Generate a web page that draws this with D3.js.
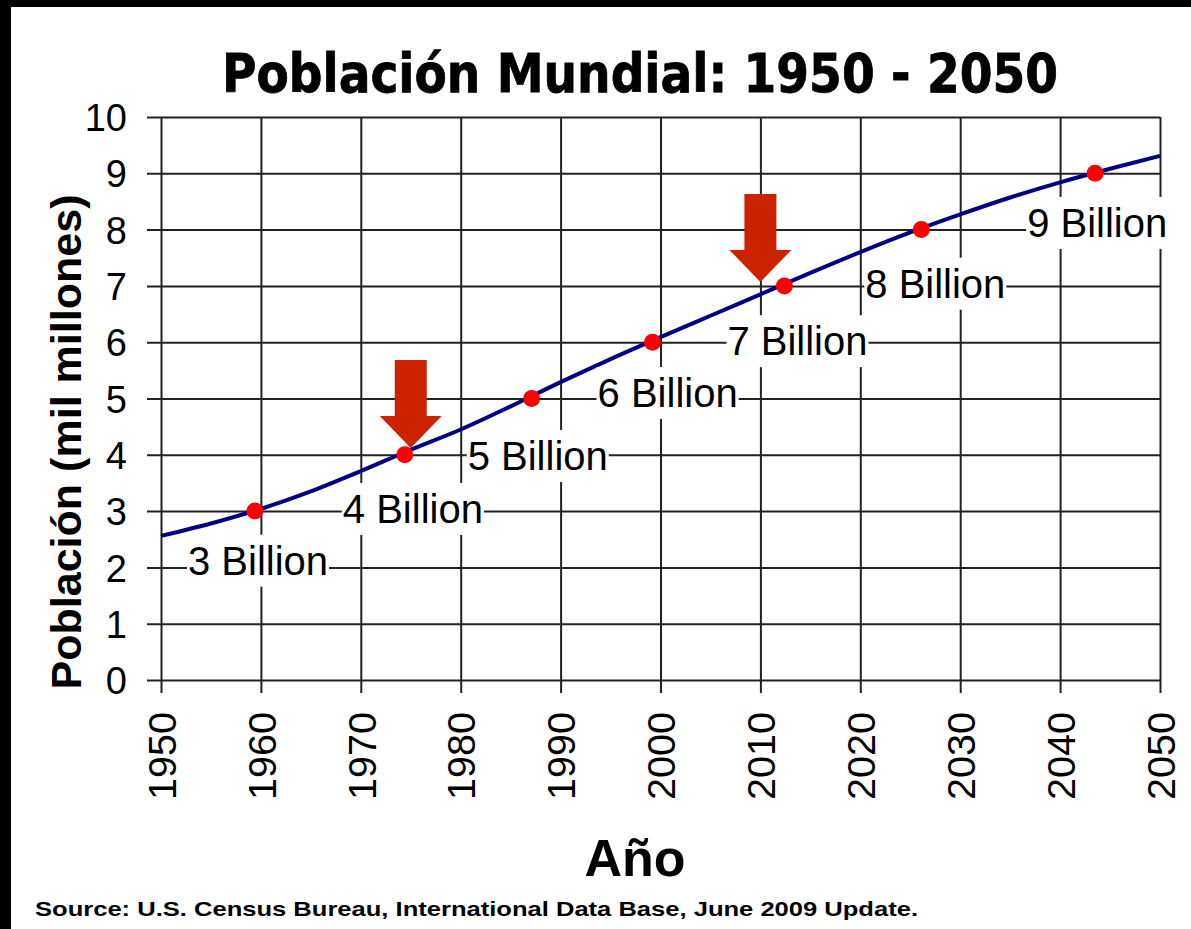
<!DOCTYPE html>
<html><head><meta charset="utf-8">
<script src="https://cdn.jsdelivr.net/npm/d3@7"></script>
<style>html,body{margin:0;padding:0;background:#fff;}svg{display:block;}</style>
</head><body>
<svg id="c" width="1191" height="929"></svg>
<script>
// ---- data ----
const years = [1950,1955,1960,1965,1970,1975,1980,1985,1990,1995,2000,2005,2010,2015,2020,2025,2030,2035,2040,2045,2050];
const population = [2.56,2.78,3.04,3.35,3.71,4.09,4.45,4.86,5.29,5.70,6.09,6.47,6.85,7.23,7.60,7.95,8.27,8.57,8.84,9.08,9.31];
const milestoneYears = [1959.4,1974.4,1987.1,1999.2,2012.4,2026.1,2043.5];
const milestoneValues = [3,4,5,6,7,8,9];
const milestoneLabels = ["3 Billion","4 Billion","5 Billion","6 Billion","7 Billion","8 Billion","9 Billion"];
const labelYears = [1952.7,1968.2,1980.7,1993.7,2006.7,2020.5,2036.7];
const labelValues = [1.87,2.79,3.73,4.85,5.77,6.79,7.87];
const arrowYears = [1975,2010];
const arrowValues = [4.12,7.07];
const xTicks = [1950,1960,1970,1980,1990,2000,2010,2020,2030,2040,2050];
const yTicks = [0,1,2,3,4,5,6,7,8,9,10];
const title = "Población Mundial: 1950 - 2050";
const xTitle = "Año";
const yTitle = "Población (mil millones)";
const source = "Source: U.S. Census Bureau, International Data Base, June 2009 Update.";

const svg = d3.select("#c");
const x = d3.scaleLinear().domain([1950,2050]).range([161,1160]);
const y = d3.scaleLinear().domain([0,10]).range([680,117]);
const gridColor = "#222";
const tickFont = "'Liberation Sans', Arial, sans-serif";

// border
svg.append("rect").attr("x",0).attr("y",0).attr("width",1191).attr("height",7).attr("fill","#000");
svg.append("rect").attr("x",0).attr("y",0).attr("width",11).attr("height",929).attr("fill","#000");

// grid via axes
const yAxis = d3.axisLeft(y).tickValues(yTicks).tickSize(1160-147).tickPadding(20).tickFormat(d3.format("d"));
const gy = svg.append("g").attr("transform","translate(1160,0)").call(yAxis);
gy.select(".domain").remove();
gy.selectAll("line").attr("stroke",gridColor).attr("stroke-width",2);
gy.selectAll("text").attr("font-family",tickFont).attr("font-size",38).attr("fill","#000").attr("x",-(1160-127)).attr("dy","0.36em");

const xAxis = d3.axisBottom(x).tickValues(xTicks).tickSize(693-117).tickFormat(d3.format("d"));
const gx = svg.append("g").attr("transform","translate(0,117)").call(xAxis);
gx.select(".domain").remove();
gx.selectAll("line").attr("stroke",gridColor).attr("stroke-width",2);
gx.selectAll("text").attr("font-family",tickFont).attr("font-size",39.5).attr("fill","#000")
  .attr("transform","rotate(-90)").attr("text-anchor","end").attr("x",-(712-117)).attr("y",0).attr("dy","0.36em");

// line
const line = d3.line().x((d,i)=>x(years[i])).y(d=>y(d)).curve(d3.curveMonotoneX);
svg.append("path").datum(population).attr("d",line).attr("fill","none").attr("stroke","#000080").attr("stroke-width",4);

// labels with white boxes
const lg = svg.append("g");
milestoneLabels.forEach((t,i)=>{
  const g = lg.append("g");
  const tx = g.append("text").attr("x",x(labelYears[i])).attr("y",y(labelValues[i]))
    .attr("font-family",tickFont).attr("font-size",40).attr("fill","#000").text(t);
  const bb = tx.node().getBBox();
  g.insert("rect","text").attr("x",bb.x-1).attr("y",y(labelValues[i])-40).attr("width",bb.width+2).attr("height",52).attr("fill","#fff");
});

// dots
svg.append("g").selectAll("circle").data(milestoneValues).join("circle")
  .attr("cx",(d,i)=>x(milestoneYears[i])).attr("cy",d=>y(d)).attr("r",8.5).attr("fill","#ff0000");

// arrows
arrowYears.forEach((yr,i)=>{
  const tx = x(yr), ty = y(arrowValues[i]);
  const p = d3.path();
  p.moveTo(tx,ty);
  p.lineTo(tx+31,ty-32);
  p.lineTo(tx+16,ty-32);
  p.lineTo(tx+16,ty-88);
  p.lineTo(tx-16,ty-88);
  p.lineTo(tx-16,ty-32);
  p.lineTo(tx-31,ty-32);
  p.closePath();
  svg.append("path").attr("d",p.toString()).attr("fill","#cc2200");
});

// titles
svg.append("text").attr("x",640).attr("y",92).attr("text-anchor","middle")
  .attr("font-family","'DejaVu Sans', Verdana, sans-serif").attr("font-weight","bold").attr("font-size",53)
  .attr("stroke","#000").attr("stroke-width",0.8)
  .attr("textLength",836).attr("lengthAdjust","spacingAndGlyphs").text(title);
svg.append("text").attr("transform","translate(81,442) rotate(-90)").attr("text-anchor","middle")
  .attr("font-family","'Liberation Sans', Arial, sans-serif").attr("font-weight","bold").attr("font-size",43)
  .attr("textLength",495).attr("lengthAdjust","spacingAndGlyphs").text(yTitle);
svg.append("text").attr("x",635).attr("y",876).attr("text-anchor","middle")
  .attr("font-family","'Liberation Sans', Arial, sans-serif").attr("font-weight","bold").attr("font-size",52).text(xTitle);
svg.append("text").attr("x",35).attr("y",916)
  .attr("font-family","'Liberation Sans', Arial, sans-serif").attr("font-weight","bold").attr("font-size",21)
  .attr("textLength",883).attr("lengthAdjust","spacingAndGlyphs").text(source);
</script>
</body></html>
